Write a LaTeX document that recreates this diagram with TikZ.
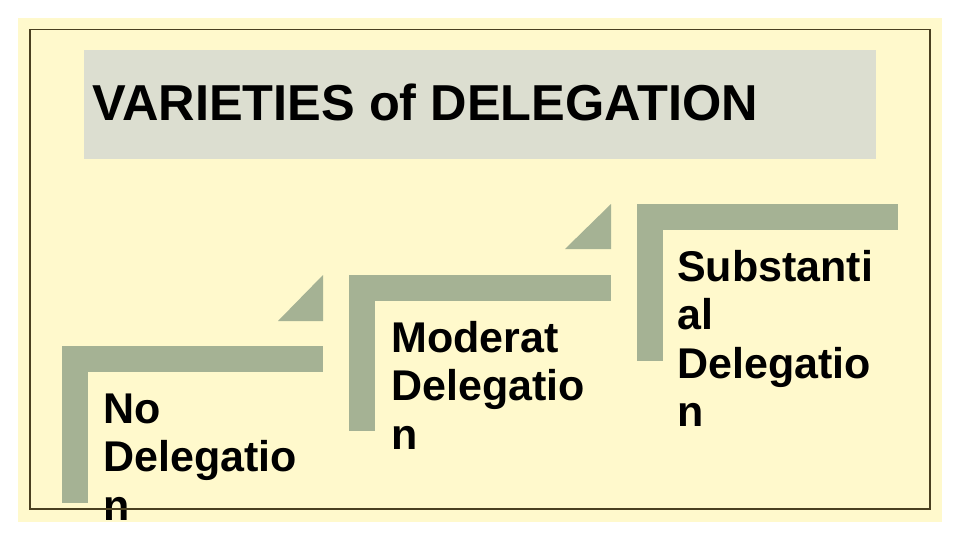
\documentclass[tikz,border=0pt]{standalone}
\usepackage{fontspec}
\setmainfont{Liberation Sans}
\definecolor{cream}{HTML}{FFF9CC}
\definecolor{titlebg}{HTML}{DCDED0}
\definecolor{sage}{HTML}{A5B294}
\definecolor{frameline}{HTML}{4A4020}
\tikzset{
  bar/.style={fill=sage, draw=none},
  steplabel/.style={anchor=base west, inner sep=0pt, align=left, font=\bfseries\fontsize{43}{48.5}\selectfont},
}
\begin{document}
\begin{tikzpicture}[x=1pt,y=-1pt]
\useasboundingbox (0,0) rectangle (960,540);
\fill[white] (0,0) rectangle (960,540);
\fill[cream] (18,18) rectangle (942,522);
% title
\node[fill=titlebg, minimum width=792pt, minimum height=109pt, anchor=north west, inner sep=0pt] (titlebox) at (84,50) {};
\node[anchor=base west, inner sep=0pt, font=\bfseries\fontsize{50.5}{60}\selectfont] (title) at (92,121) {VARIETIES of DELEGATION};
% step 1
\fill[bar] (278,321) -- (323,275) -- (323,321) -- cycle;
\fill[bar] (62,346) rectangle (323,372);
\fill[bar] (62,346) rectangle (88,503);
\node[steplabel] (s1) at (103,520) {No\\Delegatio\\n};
% step 2
\fill[bar] (565,249) -- (611,204) -- (611,249) -- cycle;
\fill[bar] (349,275) rectangle (611,301);
\fill[bar] (349,275) rectangle (375,431);
\node[steplabel] (s2) at (391,449) {Moderat\\Delegatio\\n};
% step 3
\fill[bar] (637,204) rectangle (898,230);
\fill[bar] (637,204) rectangle (663,361);
\node[steplabel] (s3) at (677,426.5) {Substanti\\al\\Delegatio\\n};
% frame
\draw[frameline, line width=1.2pt] (30,29.5) rectangle (930,509);
\end{tikzpicture}
\end{document}
